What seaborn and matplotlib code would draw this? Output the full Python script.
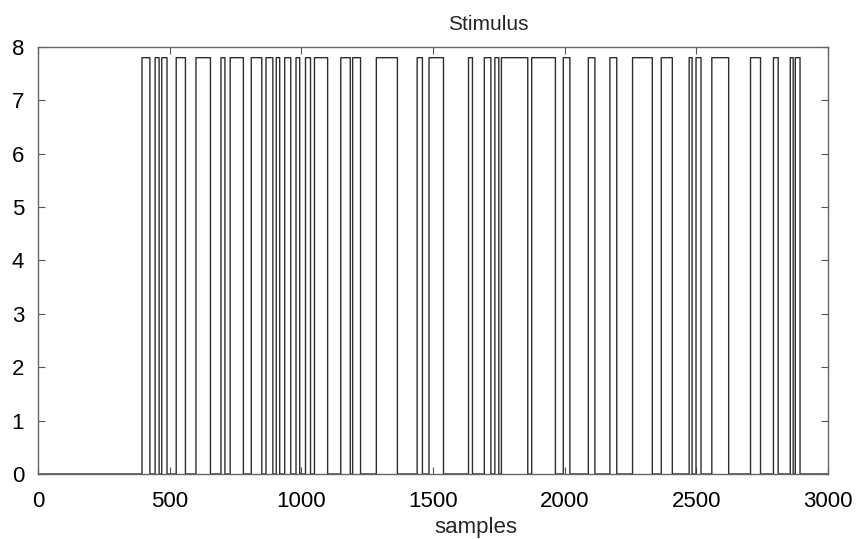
import numpy as np
import pandas as pd
import matplotlib
matplotlib.use("Agg")
import matplotlib.pyplot as plt
import seaborn as sns

# pulse edges (samples)
pulse_start = [395, 445, 470, 525, 600, 695, 730, 810, 866, 905, 937, 980, 1016, 1050,
               1150, 1195, 1285, 1440, 1485, 1635, 1695, 1735, 1760, 1875, 1995, 2090,
               2172, 2258, 2367, 2473, 2499, 2559, 2706, 2793, 2857, 2876]
pulse_end = [425, 460, 490, 560, 655, 710, 780, 850, 892, 918, 960, 994, 1035, 1100,
             1186, 1225, 1365, 1460, 1540, 1650, 1720, 1750, 1860, 1965, 2020, 2115,
             2198, 2333, 2409, 2484, 2518, 2623, 2744, 2811, 2868, 2894]
level = 7.8
n_samples = 3000

xticks = [0, 500, 1000, 1500, 2000, 2500, 3000]
yticks = [0, 1, 2, 3, 4, 5, 6, 7, 8]

signal = np.zeros(n_samples)
for s, e in zip(pulse_start, pulse_end):
    signal[s:e] = level
df = pd.DataFrame({"sample": np.arange(n_samples), "value": signal})

sns.set_style("ticks")
plt.rcParams["font.family"] = ["Liberation Sans", "DejaVu Sans"]

fig = plt.figure(figsize=(8.57, 5.39), dpi=100)
ax = fig.add_axes([0.0443, 0.1206, 0.9218, 0.7922])
sns.lineplot(data=df, x="sample", y="value", ax=ax, color="#2e2e2e",
             linewidth=1.0, drawstyle="steps-post", estimator=None)

ax.set_xlim(0, 3000)
ax.set_ylim(0, 8)
ax.set_xticks(xticks)
ax.set_yticks(yticks)
ax.tick_params(direction="in", length=5, width=0.8, color="#555555",
               labelsize=16, top=True, right=True, colors="#555555",
               labelcolor="black")
ax.tick_params(axis="x", pad=12)
ax.tick_params(axis="y", pad=10)
for sp in ax.spines.values():
    sp.set_visible(True)
    sp.set_color("#666666")
    sp.set_linewidth(1.0)

ax.set_xlabel("")
ax.set_ylabel("")
ax.set_title("Stimulus", fontsize=15, x=0.57, pad=12)
fig.text(0.555, 0.022, "samples", fontsize=16, ha="center", va="center")

fig.savefig("out.png", dpi=100)
